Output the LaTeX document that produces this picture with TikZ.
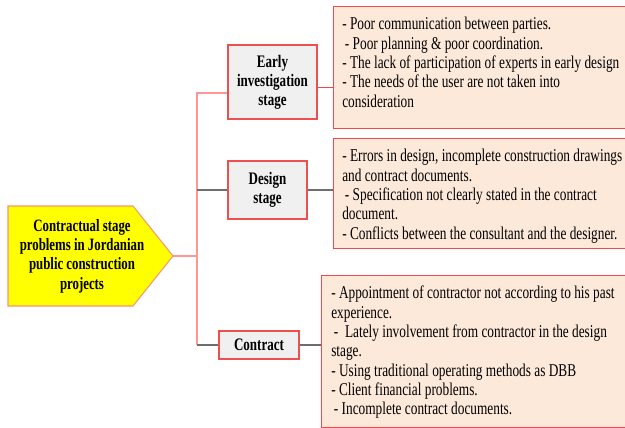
\documentclass[tikz,border=0pt]{standalone}
\usepackage{fontspec}
\setmainfont{Liberation Serif}[FakeStretch=0.74]
\usetikzlibrary{positioning}
\definecolor{mainfill}{RGB}{255,255,0}
\definecolor{mainline}{RGB}{246,150,110}
\definecolor{stagefill}{RGB}{240,240,240}
\definecolor{stageline}{RGB}{238,80,80}
\definecolor{probfill}{RGB}{253,233,218}
\definecolor{probline}{RGB}{250,70,70}
\definecolor{linkpink}{RGB}{255,150,150}
\definecolor{linkred}{RGB}{240,70,70}
\definecolor{linkgray}{RGB}{110,110,110}
\tikzset{%
	mainshape/.style = {draw=mainline, fill=mainfill, line width=0.8pt},
	maintext/.style  = {align=center, inner sep=0pt, font=\bfseries\fontsize{13}{14.5}\selectfont},
	stagebox/.style  = {draw=stageline, fill=stagefill, rectangle, line width=0.8pt,
		align=center, inner sep=0pt, font=\bfseries\fontsize{13.2}{14.3}\selectfont},
	probbox/.style   = {draw=probline, fill=probfill, rectangle, line width=0.8pt,
		anchor=north west, minimum width=226.5pt},
	probtext/.style  = {anchor=north west, align=left, inner sep=0pt,
		font=\fontsize{13.5}{14.5}\selectfont},
	pinkline/.style  = {draw=linkpink, line width=1.3pt},
	redline/.style   = {draw=linkred, line width=0.8pt},
	grayline/.style  = {draw=linkgray, line width=0.9pt}
}
\begin{document}
\begin{tikzpicture}[x=0.75pt,y=-0.75pt]
	\useasboundingbox (0,0) rectangle (625,428);
	% main problem
	\draw[mainshape] (8,206) -- (133,206) -- (173,256) coordinate (tip) -- (133,306) -- (8,306) -- cycle;
	\node[maintext] (main) at (82,256) {Contractual stage\\problems in Jordanian\\public construction\\projects};
	
	% stages
	\node[stagebox, minimum width=66.75pt, minimum height=55.5pt] (early) at (272.5,82) {Early\\investigation\\stage};
	\node[stagebox, minimum width=59.25pt, minimum height=43.5pt] (design) at (267.5,190) {Design\\stage};
	\node[stagebox, minimum width=60pt, minimum height=21pt] (contract) at (259,345) {Contract};
	
	% problem lists
	\node[probbox, minimum height=91.5pt] (probA) at (333,6) {};
	\node[probbox, minimum height=82.5pt] (probB) at (333,138) {};
	\node[probbox, minimum height=114pt, minimum width=235.5pt] (probC) at (321,275) {};
	
	\node[probtext] (textA) at (342,17) {- Poor communication between parties.\\
		\hspace*{2pt}- Poor planning \& poor coordination.\\
		- The lack of participation of experts in early design\\
		- The needs of the user are not taken into\\
		consideration};
	\node[probtext] (textB) at (342,149) {- Errors in design, incomplete construction drawings\\
		and contract documents.\\
		\hspace*{2pt}- Specification not clearly stated in the contract\\
		document.\\
		- Conflicts between the consultant and the designer.};
	\node[probtext] (textC) at (331,286) {- Appointment of contractor not according to his past\\
		experience.\\
		\hspace*{2pt}- \ Lately involvement from contractor in the design\\
		stage.\\
		- Using traditional operating methods as DBB\\
		- Client financial problems.\\
		\hspace*{2pt}- Incomplete contract documents.};
	
	% connectors
	\coordinate (fork) at (197,256);
	\draw[pinkline] (tip) -- (fork);
	\draw[pinkline] (fork) |- ([yshift=-8pt]early.west);
	\draw[pinkline] (fork) -- (fork |- contract.west);
	\draw[grayline] (fork |- design.west) -- (design.west);
	\draw[grayline] (fork |- contract.west) -- (contract.west);
	\draw[redline] ([yshift=-4pt]early.east) -- ([yshift=-4pt]probA.west |- early.east);
	\draw[grayline] (design.east) -- (probB.west |- design.east);
	\draw[grayline] (contract.east) -- (probC.west |- contract.east);
\end{tikzpicture}
\end{document}
